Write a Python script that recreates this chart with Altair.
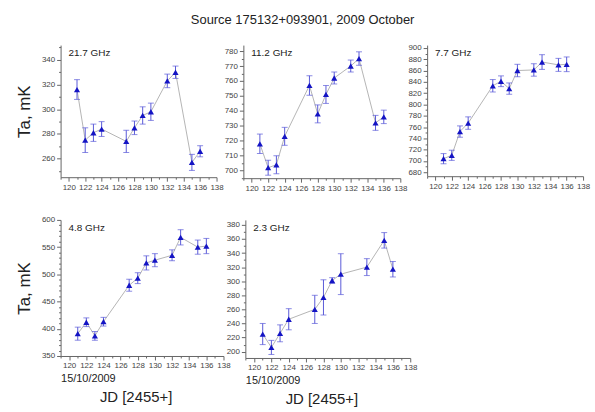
import altair as alt
import pandas as pd

# Julian dates (JD - 2455000) of the observing sessions
jd_main = [121, 122, 123, 124, 127, 128, 129, 130, 132, 133, 135, 136]
jd_23 = [121, 122, 123, 124, 127, 128, 129, 130, 133, 135, 136]

# Antenna temperatures (mK) and their errors per frequency
ta_217 = [316, 275, 281, 284, 274, 285, 295, 298, 323, 330, 257, 266]
er_217 = [8, 10, 7, 6, 9, 5.5, 7, 7, 5.5, 5, 6.5, 4.5]

ta_112 = [718, 702, 704, 723, 757, 738, 751, 762, 770, 775, 732, 736]
er_112 = [6.5, 5, 6, 6, 6.5, 6, 6, 4, 4, 4.5, 5, 4.5]

ta_77 = [704, 710, 752, 767, 833, 841, 828, 860, 861, 875, 870, 871]
er_77 = [9, 9, 10, 11, 11, 9.5, 10, 11, 11, 13, 11.5, 13]

ta_48 = [391, 412, 387, 413, 480, 493, 521, 526, 535, 568, 550, 552]
er_48 = [12, 8, 8, 8, 11, 10, 13, 12, 10, 14, 13, 14]

ta_23 = [225, 206, 226, 246, 260, 277, 301, 310, 320, 358, 317]
er_23 = [15, 10, 12, 15, 20, 25, 4, 29, 12, 11, 11]

FONT = "Liberation Sans"
X_TICKS = list(range(119, 139))  # every day; labels on even days only


def panel(jd, ta, err, label, ydom, ystep, yminor, width, height, ytitle=None, bottom=False):
    df = pd.DataFrame({"jd": jd, "ta": ta, "err": err})
    df["lo"] = df["ta"] - df["err"]
    df["hi"] = df["ta"] + df["err"]

    first = yminor * -(-ydom[0] // yminor)
    yvals = list(range(first, ydom[1] + 1, yminor))

    x_axis = alt.Axis(
        values=X_TICKS,
        labelExpr="datum.value % 2 == 0 ? datum.label : ''",
        tickSize={"condition": {"test": "datum.value % 2 == 0", "value": 4}, "value": 2},
        title="15/10/2009" if bottom else None,
        titleAnchor="start",
        titleAlign="left",
        titleFontSize=11,
        titleFontWeight="normal",
        titlePadding=3,
    )
    y_axis = alt.Axis(
        values=yvals,
        labelExpr=f"datum.value % {ystep} == 0 ? datum.label : ''",
        tickSize={"condition": {"test": f"datum.value % {ystep} == 0", "value": 4},
                  "value": 2},
        title=ytitle,
        titleFontSize=17,
        titleFontWeight="normal",
        titlePadding=8,
    )
    xs = alt.Scale(domain=[119, 138], nice=False, zero=False)
    ys = alt.Scale(domain=ydom, nice=False, zero=False)
    x = alt.X("jd:Q", scale=xs, axis=x_axis)
    y = alt.Y("ta:Q", scale=ys, axis=y_axis)
    y_lo = alt.Y("lo:Q", scale=ys, axis=y_axis)
    y_hi = alt.Y("hi:Q", scale=ys, axis=y_axis)

    base = alt.Chart(df)
    line = base.mark_line(color="#b4b4b4", strokeWidth=1).encode(x=x, y=y)
    bars = base.mark_rule(color="#5a5ad8", strokeWidth=1).encode(x=x, y=y_lo, y2="hi:Q")
    cap_lo = base.mark_tick(color="#5a5ad8", orient="horizontal", size=6, thickness=1).encode(
        x=x, y=y_lo)
    cap_hi = base.mark_tick(color="#5a5ad8", orient="horizontal", size=6, thickness=1).encode(
        x=x, y=y_hi)
    pts = base.mark_point(shape="triangle-up", filled=True, size=38, color="#1414c4",
                          opacity=1).encode(x=x, y=y)
    tag = alt.Chart(pd.DataFrame({"t": [label]})).mark_text(
        align="left", baseline="top", fontSize=10, font=FONT, color="#222"
    ).encode(x=alt.value(8), y=alt.value(3), text="t:N")

    ch = alt.layer(line, bars, cap_lo, cap_hi, pts, tag).properties(width=width, height=height)
    if bottom:
        ch = ch.properties(title=alt.TitleParams(
            "JD [2455+]", orient="bottom", fontSize=15, fontWeight="normal",
            font=FONT, color="#222", offset=6, dx=-6))
    return ch


p1 = panel(jd_main, ta_217, er_217, "21.7 GHz", [245, 352], 20, 10, 157, 133, ytitle="Ta, mK")
p2 = panel(jd_main, ta_112, er_112, "11.2 GHz", [695, 784], 10, 5, 158, 134)
p3 = panel(jd_main, ta_77, er_77, "7.7 GHz", [673, 905], 20, 10, 157, 132)
p4 = panel(jd_main, ta_48, er_48, "4.8 GHz", [350, 600], 50, 10, 164, 137,
           ytitle="Ta, mK", bottom=True)
p5 = panel(jd_23, ta_23, er_23, "2.3 GHz", [191, 387], 20, 10, 166, 139, bottom=True)

top = alt.hconcat(p1, p2, p3, spacing=27, bounds="flush")
low = alt.hconcat(p4, p5, spacing=22, bounds="flush")

chart = alt.vconcat(top, low, spacing=24).properties(
    title=alt.TitleParams("Source 175132+093901, 2009 October", fontSize=13,
                          fontWeight="normal", font=FONT, color="#222", anchor="middle",
                          offset=17),
    padding={"left": 15, "top": 12, "right": 5, "bottom": 5},
    background="white",
).configure_view(stroke=None).configure_axis(
    grid=False,
    ticks=True,
    tickWidth=1,
    labelOverlap=False,
    labelFlush=False,
    labelFont=FONT,
    titleFont=FONT,
    labelFontSize=8,
    labelColor="#444",
    titleColor="#222",
    domainColor="#666",
    tickColor="#666",
    labelPadding=2,
)

chart.save("out.html", embed_options={"renderer": "svg", "actions": False})
